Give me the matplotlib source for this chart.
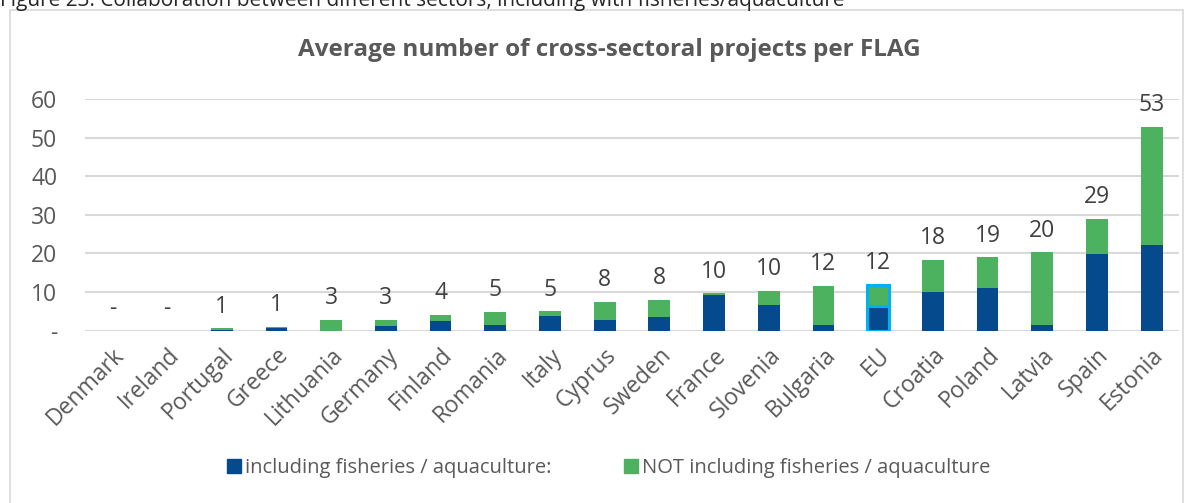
import matplotlib
matplotlib.use("Agg")
import matplotlib.pyplot as plt
from matplotlib.patches import Rectangle, Patch
import numpy as np

plt.rcParams['font.family'] = ['Open Sans', 'DejaVu Sans']

countries = ["Denmark", "Ireland", "Portugal", "Greece", "Lithuania", "Germany",
             "Finland", "Romania", "Italy", "Cyprus", "Sweden", "France",
             "Slovenia", "Bulgaria", "EU", "Croatia", "Poland", "Latvia",
             "Spain", "Estonia"]
including_fa = [0, 0, 0.2, 0.6, 0, 1.3, 2.5, 1.4, 3.8, 2.8, 3.6, 9.2,
                6.7, 1.5, 6.5, 10.1, 11.1, 1.5, 19.9, 22.3]
not_including_fa = [0, 0, 0.4, 0.35, 2.9, 1.6, 1.6, 3.5, 1.2, 4.7, 4.3, 0.5,
                    3.6, 10.2, 5.3, 8.2, 7.9, 18.8, 9.1, 30.5]
y_ticks = [0, 10, 20, 30, 40, 50, 60]
y_tick_labels = ["-", "10", "20", "30", "40", "50", "60"]

BLUE = "#044A8C"
GREEN = "#4CB25F"
HIGHLIGHT = "#00B0F0"
TEXT = "#595959"
GRID = "#D9D9D9"

W, H = 1194, 503
fig = plt.figure(figsize=(W / 100, H / 100), dpi=100)

# chart frame
fig.patches.append(Rectangle((10 / W, -0.05), (1183 - 10) / W, 1 - 10 / H + 0.05,
                             transform=fig.transFigure, fill=False,
                             edgecolor="#D9D9D9", linewidth=1.2))

# figure caption above the frame
fig.text(0.0, 1 - 6 / H,
         "Figure 23: Collaboration between different sectors, including with fisheries/aquaculture",
         ha="left", va="baseline", fontsize=15, color="#262626")

ax = fig.add_axes([85 / W, 1 - 330.7 / H, (1179 - 85) / W, (330.7 - 99) / H])

x = np.arange(len(countries))
inc = np.array(including_fa)
notinc = np.array(not_including_fa)
totals = inc + notinc

edges = [HIGHLIGHT if c == "EU" else "none" for c in countries]
lws = [2.2 if c == "EU" else 0 for c in countries]

ax.bar(x, inc, width=0.4, color=BLUE, edgecolor=edges, linewidth=lws, zorder=3,
       label="including fisheries / aquaculture:")
ax.bar(x, notinc, bottom=inc, width=0.4, color=GREEN, edgecolor=edges, linewidth=lws,
       zorder=3, label="NOT including fisheries / aquaculture")

for xi, t in zip(x, totals):
    lab = "-" if t == 0 else f"{t:.0f}"
    ax.annotate(lab, (xi, t), xytext=(0, 7), textcoords="offset points",
                ha="center", va="bottom", fontsize=16.5, color="#404040")

ax.set_xlim(-0.5, len(countries) - 0.5)
ax.set_ylim(0, 60)
ax.set_yticks(y_ticks)
ax.set_yticklabels(y_tick_labels)
ax.grid(axis="y", color=GRID, linewidth=1.5, zorder=0)
ax.set_axisbelow(True)
for s in ax.spines.values():
    s.set_visible(False)
ax.tick_params(axis="y", length=0, pad=20, labelsize=16.5, labelcolor=TEXT)
ax.tick_params(axis="x", length=0, pad=9, labelsize=16.5, labelcolor=TEXT)
ax.set_xticks(x)
ax.set_xticklabels(countries, rotation=45, ha="right", rotation_mode="anchor")

fig.text(0.51, 1 - 50 / H, "Average number of cross-sectoral projects per FLAG",
         ha="center", va="center", fontsize=17.5, fontweight="bold", color=TEXT)

handles = [Patch(color=BLUE), Patch(color=GREEN)]
fig.legend(handles, ["including fisheries / aquaculture:",
                     "NOT including fisheries / aquaculture"],
           loc="center", bbox_to_anchor=(0.51, 1 - 468 / H), ncol=2, frameon=False,
           fontsize=14.5, labelcolor=TEXT, handlelength=0.7, handleheight=0.7,
           handletextpad=0.2, columnspacing=3.6)

fig.savefig("out.png", dpi=100)
